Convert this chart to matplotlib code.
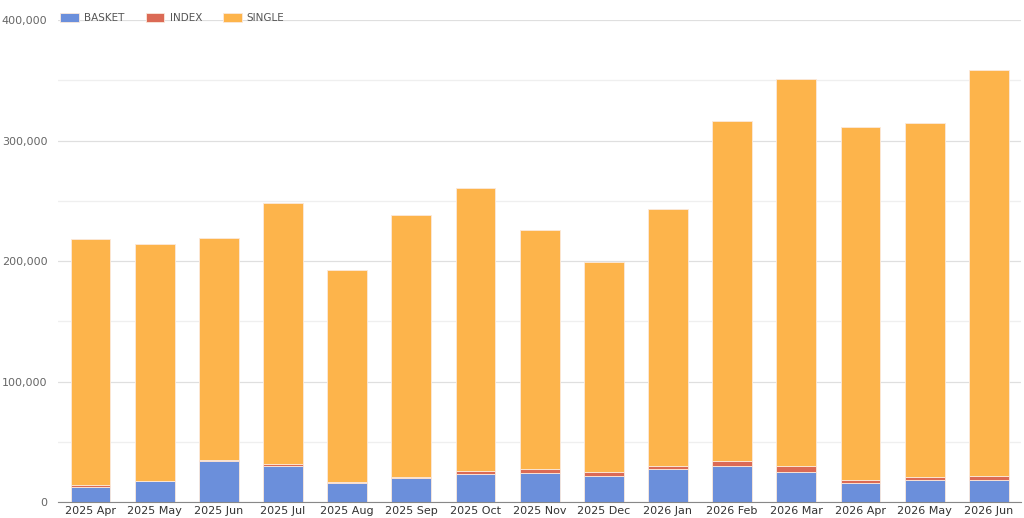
import matplotlib.pyplot as plt
import numpy as np

months = ["2025 Apr", "2025 May", "2025 Jun", "2025 Jul", "2025 Aug",
          "2025 Sep", "2025 Oct", "2025 Nov", "2025 Dec", "2026 Jan",
          "2026 Feb", "2026 Mar", "2026 Apr", "2026 May", "2026 Jun"]

basket = [12000, 17200, 34400, 29600, 16100, 19900, 23600, 24400,
          21600, 27700, 29600, 25200, 15800, 18300, 18300]
index = [2000, 500, 500, 1500, 300, 1200, 2100, 3000,
         3000, 2500, 4000, 5000, 2500, 2500, 3000]
totals = [218000, 214000, 219000, 248000, 192500, 238000, 260500, 225500,
          199000, 243000, 316000, 351000, 311000, 315000, 358500]

basket = np.array(basket)
index = np.array(index)
single = np.array(totals) - basket - index

c_basket = "#6b8fdb"
c_index = "#db6a55"
c_single = "#fdb44b"

fig = plt.figure(figsize=(10.24, 5.18), dpi=100)
ax = fig.add_axes([0.057, 0.031, 0.94, 0.93])

x = np.arange(len(months))
w = 0.62
ec = "#fbe9dc"
ax.bar(x, basket, w, color=c_basket, label="BASKET", edgecolor=ec, linewidth=0.6, zorder=2)
ax.bar(x, index, w, bottom=basket, color=c_index, label="INDEX", edgecolor=ec, linewidth=0.6, zorder=2)
ax.bar(x, single, w, bottom=basket + index, color=c_single, label="SINGLE", edgecolor=ec, linewidth=0.6, zorder=2)

ax.set_xlim(-0.5, len(months) - 0.5)
ax.set_ylim(0, 400000)
ax.set_yticks(np.arange(0, 400001, 100000))
ax.set_yticklabels(["{:,}".format(v) for v in range(0, 400001, 100000)])
ax.set_yticks(np.arange(50000, 400000, 100000), minor=True)
ax.grid(axis="y", which="major", color="#d8d8d8", linewidth=0.9, zorder=3, alpha=0.8)
ax.grid(axis="y", which="minor", color="#efefef", linewidth=0.9, zorder=1)
ax.set_xticks(x)
ax.set_xticklabels(months)

for s in ["top", "right", "left"]:
    ax.spines[s].set_visible(False)
ax.spines["bottom"].set_color("#888888")
ax.spines["bottom"].set_zorder(4)

ax.tick_params(axis="y", which="both", length=0, labelsize=8, labelcolor="#666666", pad=8)
ax.tick_params(axis="x", length=0, labelsize=8, labelcolor="#333333", pad=3)

ax.legend(loc="lower left", bbox_to_anchor=(0.0, 0.99), ncol=3, frameon=False,
          fontsize=7.5, labelcolor="#555555", handlelength=1.8, handleheight=1.0,
          columnspacing=2.0, handletextpad=0.5, borderaxespad=0.1, borderpad=0.1)

fig.savefig("out.png", dpi=100, facecolor="white")
